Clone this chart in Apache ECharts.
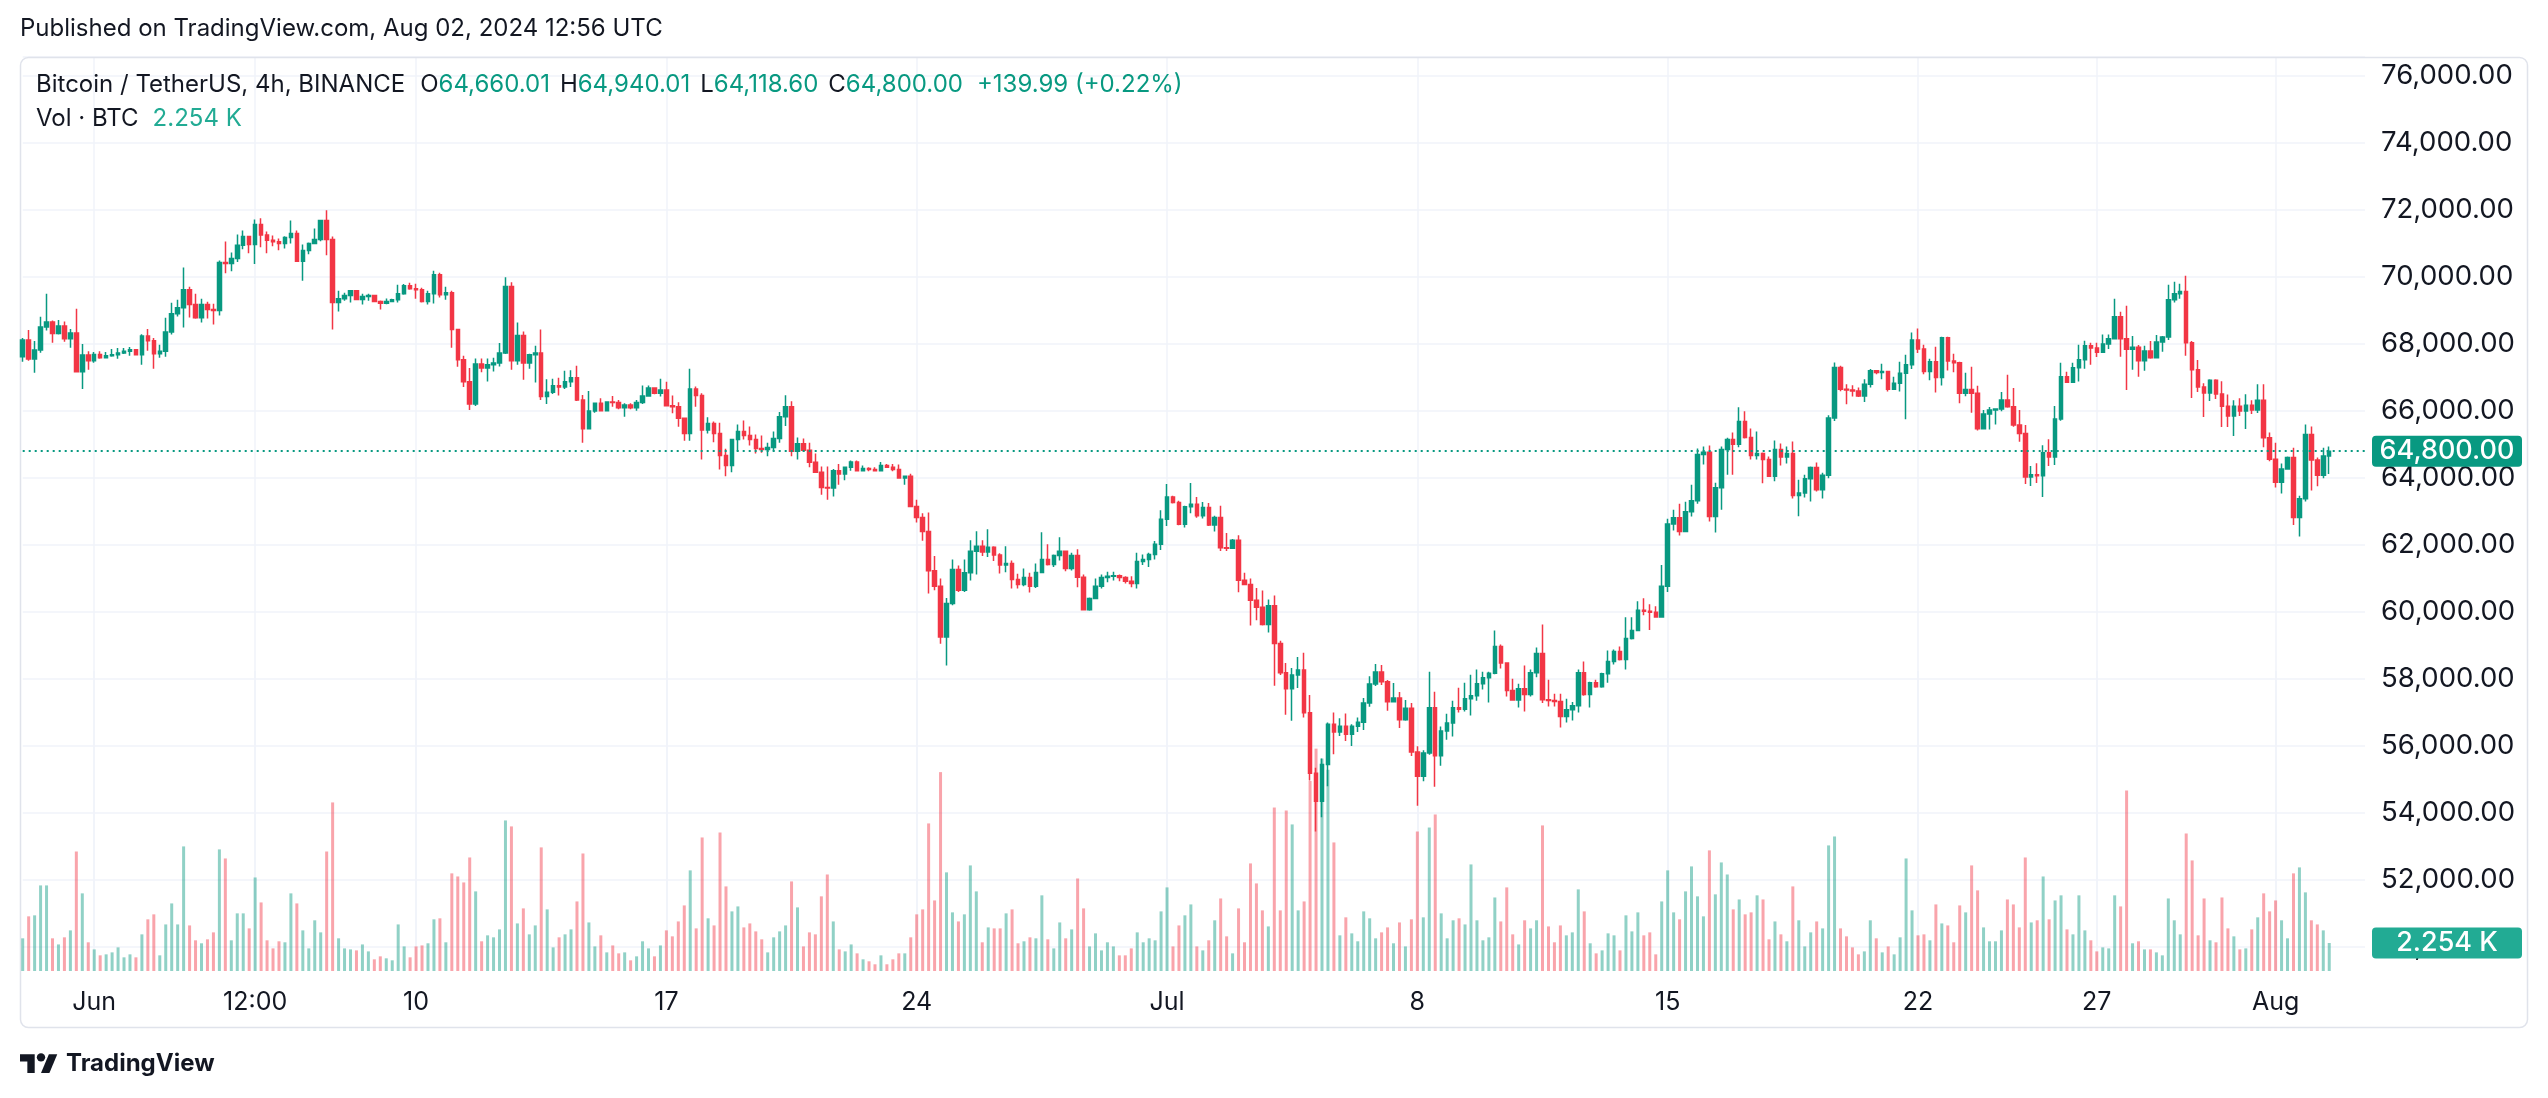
<!DOCTYPE html>
<html><head><meta charset="utf-8">
<script src="https://cdn.jsdelivr.net/npm/echarts@6/dist/echarts.min.js"></script>
<style>html,body{margin:0;padding:0;background:#fff;}#c{width:2548px;height:1098px;}</style>
</head><body><div id="c"></div>
<script>
// ---- DATA (prices in thousands USDT, volume in thousands BTC), 4h candles from 2024-05-30 00:00 UTC ----
const opens=[
67.62,68.12,67.55,67.82,68.51,68.66,68.31,68.54,68.16,68.33,
67.17,67.67,67.50,67.69,67.59,67.65,67.68,67.73,67.78,67.83,
67.68,68.24,68.10,67.71,67.78,68.36,68.90,69.08,69.62,69.18,
68.78,69.18,69.03,69.00,70.43,70.40,70.55,70.95,71.21,70.97,
71.57,71.25,71.10,71.05,71.00,71.18,71.30,70.47,70.79,71.00,
71.12,71.69,71.12,69.24,69.35,69.45,69.59,69.33,69.42,69.45,
69.27,69.22,69.27,69.32,69.50,69.74,69.65,69.62,69.27,69.50,
70.07,69.47,69.53,68.43,67.53,66.87,66.21,67.40,67.28,67.38,
67.43,67.73,69.72,67.50,68.25,67.43,67.68,67.73,66.43,66.56,
66.75,66.72,66.87,66.99,66.33,65.47,66.00,66.23,66.01,66.27,
66.25,66.10,66.18,66.10,66.25,66.45,66.69,66.53,66.63,66.16,
66.13,65.78,65.33,66.66,66.46,65.43,65.63,65.33,64.67,64.37,
65.15,65.39,65.27,65.15,64.88,64.85,64.91,65.18,65.83,66.13,
64.80,65.02,64.83,64.47,64.17,63.72,63.70,64.22,64.12,64.32,
64.48,64.22,64.28,64.25,64.22,64.37,64.32,64.25,64.00,64.05,
63.15,62.82,62.40,61.23,60.77,59.25,60.25,61.27,60.65,61.17,
61.81,61.96,61.79,61.93,61.70,61.40,61.45,60.97,60.82,61.03,
60.77,61.18,61.57,61.42,61.69,61.81,61.30,61.69,61.04,60.07,
60.40,60.77,61.03,61.07,61.08,61.03,60.92,60.85,61.51,61.57,
61.72,62.02,62.77,63.43,63.27,62.62,63.14,63.22,62.87,63.12,
62.60,62.82,61.92,61.90,62.14,60.95,60.82,60.35,60.14,59.63,
60.19,59.06,58.19,57.71,58.12,58.27,56.99,55.19,54.35,55.45,
56.65,56.42,56.59,56.35,56.59,56.71,57.28,57.85,58.21,57.92,
57.32,57.43,56.78,57.13,55.82,55.10,55.79,57.14,55.71,56.45,
56.69,57.14,57.10,57.41,57.50,57.86,58.04,58.17,58.97,58.48,
57.66,57.37,57.71,57.54,58.19,58.76,57.38,57.36,57.33,56.88,
57.08,57.20,58.19,57.54,57.89,57.77,58.16,58.52,58.82,58.58,
59.21,59.45,60.05,60.02,59.99,59.85,60.77,62.63,62.81,62.40,
62.99,63.32,64.70,64.77,62.85,63.71,64.85,65.15,65.01,65.69,
65.21,64.67,64.73,64.55,64.05,64.85,64.63,64.73,63.48,63.55,
63.98,64.31,63.65,64.08,65.79,67.30,66.65,66.63,66.60,66.45,
66.80,67.20,67.15,67.18,66.65,66.83,67.13,67.38,68.12,67.85,
67.18,67.47,67.00,68.19,67.49,67.44,66.53,66.64,66.53,65.47,
65.91,66.03,66.06,66.33,66.13,65.58,65.33,64.03,64.10,64.07,
64.75,64.63,65.76,67.02,66.86,67.29,67.53,67.95,67.88,67.75,
68.00,68.16,68.81,68.16,67.84,67.90,67.50,67.79,67.59,68.06,
68.21,69.32,69.50,69.57,68.04,67.23,66.72,66.54,66.92,66.51,
66.14,65.85,66.14,66.00,66.17,66.03,66.32,65.20,64.56,63.87,
64.27,64.61,62.82,63.38,65.30,64.54,64.08,64.66];
const highs=[
68.18,68.42,68.09,68.81,69.50,68.70,68.72,68.67,68.45,69.05,
68.00,67.78,67.76,67.78,67.76,67.85,67.88,67.88,67.91,67.85,
68.29,68.45,68.18,67.98,68.78,69.23,69.32,70.28,69.71,69.50,
69.35,69.26,69.20,70.49,71.06,70.73,71.27,71.39,71.23,71.72,
71.75,71.36,71.24,71.15,71.22,71.69,71.39,70.97,71.03,71.45,
71.70,71.99,71.21,69.59,69.53,69.60,69.60,69.50,69.50,69.47,
69.30,69.36,69.35,69.77,69.79,69.83,69.80,69.68,69.59,70.19,
70.13,69.71,69.59,68.45,67.65,67.28,67.57,67.57,67.57,67.59,
68.03,69.99,69.84,68.64,68.37,67.71,67.95,68.43,66.95,66.96,
66.99,67.20,67.22,67.35,66.48,66.60,66.25,66.38,66.29,66.45,
66.33,66.23,66.23,66.33,66.76,66.76,66.71,66.96,66.87,66.46,
66.26,65.80,67.26,66.73,66.53,65.81,65.69,65.65,64.87,65.17,
65.60,65.72,65.54,65.30,65.27,65.05,65.39,65.97,66.47,66.29,
65.21,65.18,65.05,64.73,64.34,64.34,64.27,64.42,64.33,64.52,
64.52,64.37,64.32,64.32,64.48,64.42,64.42,64.40,64.07,64.13,
63.35,62.95,62.97,61.67,61.00,60.42,61.57,61.39,61.57,62.14,
62.41,62.14,62.47,61.96,61.75,61.96,61.54,61.14,61.30,61.17,
61.45,62.38,62.02,61.72,62.23,61.82,61.77,61.87,61.12,60.43,
61.00,61.12,61.20,61.20,61.12,61.07,61.07,61.77,61.72,61.77,
62.12,63.04,63.82,63.47,63.32,63.17,63.85,63.43,63.28,63.25,
62.87,63.17,62.36,62.18,62.29,61.17,61.00,60.72,60.64,60.37,
60.49,59.14,58.48,58.33,58.66,58.78,57.52,55.35,55.63,56.70,
57.00,56.83,56.97,56.65,56.85,57.43,58.08,58.45,58.42,57.97,
57.88,57.61,57.37,57.28,55.99,55.87,58.22,57.62,56.58,56.96,
57.35,57.74,57.89,58.13,58.28,58.22,58.22,59.45,59.03,58.49,
58.01,57.86,58.40,58.28,58.94,59.63,57.98,57.56,57.56,57.41,
57.31,58.28,58.52,57.92,57.98,58.19,58.85,58.88,58.97,59.84,
59.84,60.32,60.41,60.23,60.17,61.40,62.78,63.05,63.23,63.29,
63.80,64.88,64.94,64.97,63.86,64.94,65.20,65.36,66.11,65.99,
65.48,65.39,64.76,64.64,65.12,65.03,64.94,65.09,63.95,64.10,
64.34,64.46,64.16,65.87,67.45,67.35,66.80,66.77,66.70,66.95,
67.25,67.22,67.41,67.20,67.02,67.47,67.68,68.34,68.46,67.98,
67.56,67.92,68.22,68.22,67.71,67.47,67.14,67.32,66.75,66.03,
66.12,66.08,66.57,67.08,66.69,66.03,65.58,64.36,64.44,64.98,
65.16,66.15,67.44,67.17,67.44,67.98,68.10,68.04,68.04,68.28,
68.28,69.35,68.96,69.14,68.24,67.97,67.95,68.09,68.27,68.24,
69.77,69.86,69.80,70.04,68.09,67.52,66.83,66.95,66.95,66.89,
66.49,66.32,66.38,66.50,66.32,66.80,66.80,65.36,65.05,64.43,
64.64,64.90,63.47,65.60,65.54,64.61,64.90,64.94];
const lows=[
67.47,67.50,67.14,67.74,68.40,68.04,68.28,68.07,67.89,67.15,
66.66,67.23,67.44,67.56,67.57,67.62,67.56,67.70,67.65,67.66,
67.38,67.80,67.26,67.59,67.62,68.28,68.82,68.49,68.79,68.75,
68.64,68.76,68.58,68.85,70.11,70.17,70.45,70.83,70.71,70.39,
70.89,70.71,70.92,70.80,70.85,71.00,70.45,69.89,70.68,70.98,
71.07,70.65,68.43,68.97,69.29,69.24,69.32,69.18,69.29,69.26,
69.03,69.19,69.25,69.24,69.47,69.62,69.35,69.24,69.18,69.21,
69.39,69.32,67.89,67.32,66.72,66.03,66.15,67.16,66.88,67.18,
67.33,67.70,67.23,67.38,66.93,67.26,66.85,66.33,66.21,66.51,
66.46,66.66,66.72,66.30,65.05,65.45,65.95,66.00,66.00,66.13,
66.05,65.83,66.05,66.01,66.21,66.43,66.50,66.43,66.14,65.93,
65.53,65.11,65.11,66.13,64.55,65.33,65.07,64.25,64.05,64.17,
64.80,65.15,64.97,64.73,64.75,64.65,64.80,65.05,65.55,64.65,
64.55,64.78,64.32,64.15,63.50,63.35,63.45,63.80,63.93,64.22,
64.20,64.20,64.20,64.20,64.20,64.30,64.20,63.98,63.80,63.13,
62.67,62.13,60.55,60.65,59.05,58.40,60.20,60.60,60.60,60.94,
61.12,61.67,61.64,61.52,61.15,61.19,60.70,60.70,60.77,60.58,
60.72,61.16,61.39,61.34,61.54,61.22,61.24,60.74,60.05,60.04,
60.38,60.70,60.89,60.94,60.92,60.85,60.74,60.70,61.40,61.34,
61.57,61.85,62.57,63.24,62.59,62.52,62.95,62.81,62.79,62.57,
62.40,61.82,61.82,61.89,60.59,60.80,59.60,59.75,59.60,59.39,
57.80,58.12,56.93,56.75,57.73,56.85,54.97,53.45,53.87,54.80,
55.75,56.30,56.15,56.00,56.42,56.48,57.17,57.79,57.82,57.05,
57.30,56.54,56.75,55.70,54.22,54.95,55.74,54.78,55.41,56.19,
56.28,57.00,57.03,56.91,57.35,57.69,57.30,58.14,58.31,57.48,
57.35,57.15,57.03,57.48,58.05,57.28,57.18,57.18,56.55,56.70,
56.76,57.00,57.50,57.15,57.74,57.74,57.89,58.43,58.55,58.28,
59.18,59.43,59.90,59.46,59.85,59.83,60.60,62.43,62.28,62.38,
62.85,63.23,64.40,62.70,62.37,63.05,64.10,64.10,64.92,65.18,
64.55,64.55,63.84,64.03,63.90,64.37,64.43,63.39,62.86,63.42,
63.30,63.60,63.39,63.99,65.70,66.59,66.20,66.43,66.42,66.27,
66.70,67.10,66.95,66.58,66.63,66.58,65.75,67.25,67.73,67.10,
66.92,66.55,66.76,67.21,67.16,66.23,66.44,65.95,65.42,65.45,
65.45,65.60,65.99,66.10,65.53,65.08,63.82,63.76,63.85,63.43,
64.36,64.39,65.71,66.84,66.84,66.88,67.26,67.38,67.61,67.73,
67.85,68.14,67.62,66.63,67.23,67.02,67.20,67.56,67.57,67.77,
68.12,69.24,69.35,67.65,66.39,66.57,65.82,66.30,66.36,65.52,
65.52,65.25,65.85,65.46,65.91,65.94,64.92,64.50,63.72,63.54,
64.25,62.60,62.25,63.30,63.63,63.75,63.99,64.1186];
const closes=[
68.12,67.55,67.82,68.51,68.66,68.31,68.54,68.16,68.33,67.17,
67.67,67.50,67.69,67.59,67.65,67.68,67.73,67.78,67.83,67.68,
68.24,68.10,67.71,67.78,68.36,68.90,69.08,69.62,69.18,68.78,
69.18,69.03,69.00,70.43,70.40,70.55,70.95,71.21,70.97,71.57,
71.25,71.10,71.05,71.00,71.18,71.30,70.47,70.79,71.00,71.12,
71.69,71.12,69.24,69.35,69.45,69.59,69.33,69.42,69.45,69.27,
69.22,69.27,69.32,69.50,69.74,69.65,69.62,69.27,69.50,70.07,
69.47,69.53,68.43,67.53,66.87,66.21,67.40,67.28,67.38,67.43,
67.73,69.72,67.50,68.25,67.43,67.68,67.73,66.43,66.56,66.75,
66.72,66.87,66.99,66.33,65.47,66.00,66.23,66.01,66.27,66.25,
66.10,66.18,66.10,66.25,66.45,66.69,66.53,66.63,66.16,66.13,
65.78,65.33,66.66,66.46,65.43,65.63,65.33,64.67,64.37,65.15,
65.39,65.27,65.15,64.88,64.85,64.91,65.18,65.83,66.13,64.80,
65.02,64.83,64.47,64.17,63.72,63.70,64.22,64.12,64.32,64.48,
64.22,64.28,64.25,64.22,64.37,64.32,64.25,64.00,64.05,63.15,
62.82,62.40,61.23,60.77,59.25,60.25,61.27,60.65,61.17,61.81,
61.96,61.79,61.93,61.70,61.40,61.45,60.97,60.82,61.03,60.77,
61.18,61.57,61.42,61.69,61.81,61.30,61.69,61.04,60.07,60.40,
60.77,61.03,61.07,61.08,61.03,60.92,60.85,61.51,61.57,61.72,
62.02,62.77,63.43,63.27,62.62,63.14,63.22,62.87,63.12,62.60,
62.82,61.92,61.90,62.14,60.95,60.82,60.35,60.14,59.63,60.19,
59.06,58.19,57.71,58.12,58.27,56.99,55.19,54.35,55.45,56.65,
56.42,56.59,56.35,56.59,56.71,57.28,57.85,58.21,57.92,57.32,
57.43,56.78,57.13,55.82,55.10,55.79,57.14,55.71,56.45,56.69,
57.14,57.10,57.41,57.50,57.86,58.04,58.17,58.97,58.48,57.66,
57.37,57.71,57.54,58.19,58.76,57.38,57.36,57.33,56.88,57.08,
57.20,58.19,57.54,57.89,57.77,58.16,58.52,58.82,58.58,59.21,
59.45,60.05,60.02,59.99,59.85,60.77,62.63,62.81,62.40,62.99,
63.32,64.70,64.77,62.85,63.71,64.85,65.15,65.01,65.69,65.21,
64.67,64.73,64.55,64.05,64.85,64.63,64.73,63.48,63.55,63.98,
64.31,63.65,64.08,65.79,67.30,66.65,66.63,66.60,66.45,66.80,
67.20,67.15,67.18,66.65,66.83,67.13,67.38,68.12,67.85,67.18,
67.47,67.00,68.19,67.49,67.44,66.53,66.64,66.53,65.47,65.91,
66.03,66.06,66.33,66.13,65.58,65.33,64.03,64.10,64.07,64.75,
64.63,65.76,67.02,66.86,67.29,67.53,67.95,67.88,67.75,68.00,
68.16,68.81,68.16,67.84,67.90,67.50,67.79,67.59,68.06,68.21,
69.32,69.50,69.57,68.04,67.23,66.72,66.54,66.92,66.51,66.14,
65.85,66.14,66.00,66.17,66.03,66.32,65.20,64.56,63.87,64.27,
64.61,62.82,63.38,65.30,64.54,64.08,64.66,64.80];
const volumes=[
2.63,4.40,4.48,6.89,6.89,2.63,2.14,2.71,3.27,9.62,
6.25,2.31,1.74,1.26,1.34,1.50,1.90,1.10,1.34,1.10,
2.95,4.16,4.56,1.26,3.75,5.44,3.75,10.03,3.67,2.47,
2.23,2.55,3.11,9.79,9.06,2.47,4.64,4.64,3.43,7.53,
5.52,2.47,1.82,2.39,2.31,6.25,5.44,3.27,1.82,4.08,
3.11,9.62,13.57,2.63,1.82,1.74,1.66,2.14,1.58,0.94,
1.18,1.02,0.86,3.75,1.98,1.10,1.98,2.06,2.23,4.16,
4.24,2.31,7.86,7.61,7.13,9.14,6.41,2.39,2.87,2.71,
3.35,12.12,11.64,3.83,5.04,2.95,3.67,9.95,4.96,1.90,
2.71,2.95,3.35,5.60,9.46,3.91,1.98,2.87,1.50,2.06,
1.42,1.50,0.86,1.18,2.39,1.82,1.18,2.06,3.27,2.79,
3.99,5.28,8.10,3.43,10.75,4.24,3.67,11.15,6.81,4.80,
5.20,3.51,3.83,3.19,2.55,1.50,2.71,3.19,3.67,7.21,
5.12,1.98,3.11,2.95,6.01,7.77,3.99,1.74,1.58,2.14,
1.42,0.94,0.78,0.54,1.26,0.54,0.94,1.42,1.42,2.71,
4.56,4.96,11.88,5.68,16.01,7.94,4.72,3.99,4.56,8.50,
6.41,2.31,3.51,3.43,3.43,4.64,4.96,2.23,2.39,2.71,
2.63,6.09,2.55,1.82,3.91,2.63,3.35,7.45,5.04,1.98,
3.03,1.66,2.31,1.98,1.26,1.26,1.82,3.11,2.31,2.63,
2.47,4.80,6.73,1.98,3.67,4.48,5.36,1.98,1.66,2.47,
4.08,5.84,2.79,1.42,5.04,2.31,8.66,7.05,4.88,3.59,
13.16,4.88,12.92,11.80,4.88,5.60,15.30,17.90,17.10,16.20,
10.35,2.87,4.32,3.03,2.39,4.80,4.24,2.63,3.11,3.51,
2.23,3.91,1.98,4.16,11.23,4.32,11.55,12.60,4.64,2.63,
4.08,4.24,3.75,8.58,4.08,2.47,2.71,5.92,3.99,6.73,
2.95,2.14,4.08,3.43,4.08,11.72,3.59,2.31,3.67,2.87,
3.11,6.57,4.80,2.23,1.42,1.66,3.03,2.87,1.66,4.48,
3.19,4.72,2.87,3.11,1.34,5.60,8.10,4.72,4.16,6.41,
8.42,6.01,4.40,9.71,6.17,8.74,7.77,4.96,5.76,4.56,
4.72,6.09,5.76,2.55,3.99,2.95,2.39,6.81,4.08,1.98,
3.11,3.99,3.43,10.11,10.83,3.43,2.79,1.90,1.34,1.58,
4.08,2.63,1.50,1.98,1.34,2.71,9.06,4.88,2.87,2.95,
2.47,5.36,3.83,3.67,2.31,5.28,4.72,8.50,6.49,3.51,
2.39,2.39,3.27,5.76,5.36,3.51,9.14,3.91,4.08,7.61,
4.16,5.68,6.09,3.35,2.95,6.09,3.27,2.47,1.58,1.90,
1.82,6.09,5.20,14.53,2.23,2.39,1.74,1.74,1.50,1.26,
5.84,4.08,2.95,11.07,8.90,2.87,5.84,2.47,2.31,5.92,
3.43,2.79,1.74,1.82,3.35,4.32,6.25,4.80,5.68,4.08,
2.63,7.86,8.34,6.33,4.08,3.75,3.27,2.254];
const tickIndex=[12,39,66,108,150,192,234,276,318,348,378];
const tickText=['Jun','12:00','10','17','24','Jul','8','15','22','27','Aug'];
const lastPrice=64800;
const lastVolK=2.254;
const startUTC=Date.UTC(2024,4,30,0,0);
const emptySlots=6;

// ---- BUILD ----
const UP='#089981', DOWN='#F23645';
const UPV='rgba(8,153,129,0.45)', DOWNV='rgba(242,54,69,0.45)';
const VOLC='#22ab94';
const FONT='Inter, "Noto Sans", sans-serif';
const N=opens.length+emptySlots;
const cats=[];
for(let i=0;i<N;i++){const d=new Date(startUTC+i*4*3600*1000);cats.push(d.toISOString().slice(0,16));}
const candles=opens.map((o,i)=>[o*1000,closes[i]*1000,lows[i]*1000,highs[i]*1000]);
const vols=volumes.map((v,i)=>({value:v*1000,itemStyle:{color:closes[i]>=opens[i]?UPV:DOWNV}}));
const tickSet=new Set(tickIndex);
const isTick=(idx)=>tickSet.has(idx);
const fmt=v=>v.toLocaleString('en-US',{minimumFractionDigits:2,maximumFractionDigits:2});
const GRIDC='#f0f3fa';

const chart=echarts.init(document.getElementById('c'),null,{renderer:'canvas'});
const option={
  animation:false,
  backgroundColor:'#ffffff',
  grid:[
    {left:22.7,right:183,top:57,height:890},
    {left:22.7,right:183,top:671,height:300}
  ],
  xAxis:[
    {type:'category',gridIndex:0,data:cats,boundaryGap:false,
     axisLine:{show:false},axisTick:{show:false},axisLabel:{show:false},
     splitLine:{show:true,interval:(i)=>isTick(i),lineStyle:{color:GRIDC,width:1.5}}},
    {type:'category',gridIndex:1,data:cats,boundaryGap:false,
     axisLine:{show:false},axisTick:{show:false},
     axisLabel:{show:true,interval:(i)=>isTick(i),formatter:(v,i)=>tickText[tickIndex.indexOf(i)]||'',
       color:'#131722',fontFamily:FONT,fontSize:25,margin:19},
     splitLine:{show:true,interval:(i)=>isTick(i),lineStyle:{color:GRIDC,width:1.5}}}
  ],
  yAxis:[
    {type:'value',gridIndex:0,position:'right',min:50000,max:76567,interval:2000,
     axisLine:{show:false},axisTick:{show:false},
     axisLabel:{color:'#131722',fontFamily:FONT,fontSize:27.5,margin:16,showMaxLabel:false,formatter:fmt},
     splitLine:{show:true,lineStyle:{color:GRIDC,width:1.5}}},
    {type:'value',gridIndex:1,min:0,max:24150,show:false,splitLine:{show:false}}
  ],
  series:[
    {type:'bar',xAxisIndex:1,yAxisIndex:1,data:vols,barWidth:3,clip:false,z:1},
    {type:'candlestick',xAxisIndex:0,yAxisIndex:0,data:candles,barWidth:4,clip:false,z:3,
     itemStyle:{color:UP,color0:DOWN,borderColor:UP,borderColor0:DOWN,borderWidth:1.5},
     markLine:{silent:true,symbol:['none','none'],label:{show:false},
       lineStyle:{color:UP,type:[2,4],width:2},data:[{yAxis:lastPrice}]}}
  ]
};
chart.setOption(option);

const yP=chart.convertToPixel({yAxisIndex:0},lastPrice);
const yV=chart.convertToPixel({yAxisIndex:1},lastVolK*1000);
const S=1.05, LX=20, LY=1050;
const tShape=[[14,22],[7,22],[7,11],[0,11],[0,4],[14,4]].map(p=>[LX+p[0]*S,LY+p[1]*S]);
const vShape=[[28,22],[20,22],[27.5,4],[35.5,4]].map(p=>[LX+p[0]*S,LY+p[1]*S]);
chart.setOption({graphic:[
  {type:'rect',z:0,silent:true,shape:{x:20.5,y:57.5,width:2507,height:970,r:8},style:{fill:'none',stroke:'#e0e3eb',lineWidth:1.5}},
  {type:'text',x:20,y:29,z:10,style:{text:'Published on TradingView.com, Aug 02, 2024 12:56 UTC',fill:'#131722',font:'24px '+FONT,verticalAlign:'middle'}},
  {type:'text',x:36,y:85,z:10,style:{
    text:'{t|Bitcoin / TetherUS, 4h, BINANCE}{k|O}{v|64,660.01}{k|H}{v|64,940.01}{k|L}{v|64,118.60}{k|C}{v|64,800.00}{c|+139.99 (+0.22%)}',
    verticalAlign:'middle',
    rich:{
      t:{fill:'#131722',fontSize:24,fontFamily:FONT,padding:[0,5,0,0]},
      k:{fill:'#131722',fontSize:24,fontFamily:FONT,padding:[0,0,0,10]},
      v:{fill:UP,fontSize:24,fontFamily:FONT},
      c:{fill:UP,fontSize:24,fontFamily:FONT,padding:[0,0,0,14]}
    }}},
  {type:'text',x:36,y:119,z:10,style:{
    text:'{t|Vol · BTC}{v|2.254 K}',verticalAlign:'middle',
    rich:{t:{fill:'#131722',fontSize:24,fontFamily:FONT,padding:[0,14,0,0]},v:{fill:VOLC,fontSize:24,fontFamily:FONT}}}},
  {type:'rect',z:50,silent:true,shape:{x:2372,y:yP-15.5,width:150,height:31,r:4},style:{fill:UP}},
  {type:'text',z:51,x:2447,y:yP,style:{text:fmt(lastPrice),fill:'#ffffff',font:'500 27px '+FONT,align:'center',verticalAlign:'middle'}},
  {type:'rect',z:50,silent:true,shape:{x:2372,y:yV-15.5,width:150,height:31,r:4},style:{fill:VOLC}},
  {type:'text',z:51,x:2447,y:yV,style:{text:lastVolK.toFixed(3)+' K',fill:'#ffffff',font:'500 27px '+FONT,align:'center',verticalAlign:'middle'}},
  {type:'polygon',z:10,shape:{points:tShape},style:{fill:'#131722'}},
  {type:'polygon',z:10,shape:{points:vShape},style:{fill:'#131722'}},
  {type:'circle',z:10,shape:{cx:LX+20*S,cy:LY+7*S,r:4*S},style:{fill:'#131722'}},
  {type:'text',x:66,y:1064,z:10,style:{text:'TradingView',fill:'#131722',font:'bold 24px '+FONT,verticalAlign:'middle'}}
]});
</script>
</body></html>
